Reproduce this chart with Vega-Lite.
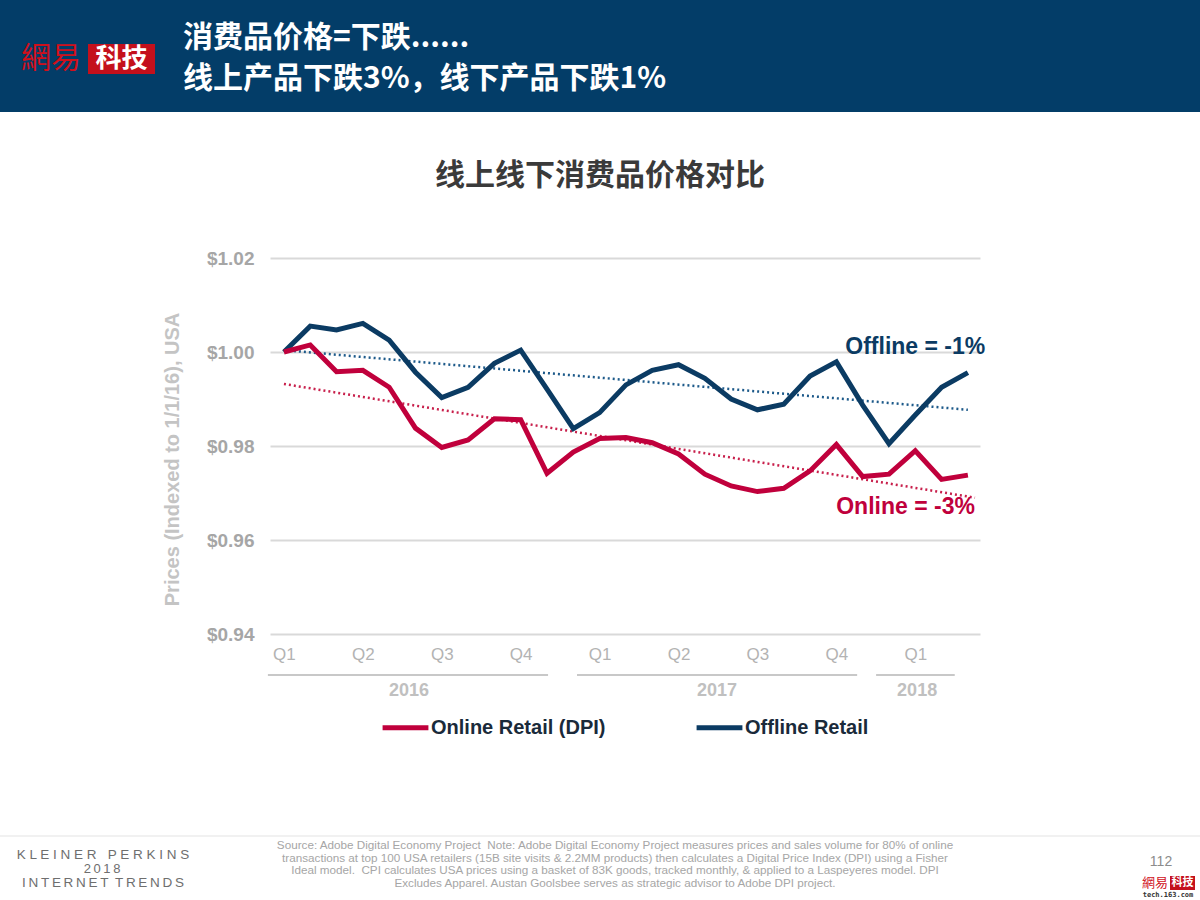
{
  "$schema": "https://vega.github.io/schema/vega-lite/v6.json",
  "width": 710,
  "height": 376,
  "autosize": {"type": "none"},
  "padding": {"left": 270, "top": 258, "right": 220, "bottom": 266},
  "background": "white",
  "config": {"view": {"stroke": null}},
  "datasets": {
    "prices": [
      {"m": 0, "series": "Offline Retail", "value": 1.0000},
      {"m": 1, "series": "Offline Retail", "value": 1.0055},
      {"m": 2, "series": "Offline Retail", "value": 1.0047},
      {"m": 3, "series": "Offline Retail", "value": 1.0061},
      {"m": 4, "series": "Offline Retail", "value": 1.0025},
      {"m": 5, "series": "Offline Retail", "value": 0.9957},
      {"m": 6, "series": "Offline Retail", "value": 0.9903},
      {"m": 7, "series": "Offline Retail", "value": 0.9925},
      {"m": 8, "series": "Offline Retail", "value": 0.9976},
      {"m": 9, "series": "Offline Retail", "value": 1.0004},
      {"m": 10, "series": "Offline Retail", "value": 0.9921},
      {"m": 11, "series": "Offline Retail", "value": 0.9837},
      {"m": 12, "series": "Offline Retail", "value": 0.9871},
      {"m": 13, "series": "Offline Retail", "value": 0.9930},
      {"m": 14, "series": "Offline Retail", "value": 0.9961},
      {"m": 15, "series": "Offline Retail", "value": 0.9973},
      {"m": 16, "series": "Offline Retail", "value": 0.9944},
      {"m": 17, "series": "Offline Retail", "value": 0.9900},
      {"m": 18, "series": "Offline Retail", "value": 0.9877},
      {"m": 19, "series": "Offline Retail", "value": 0.9889},
      {"m": 20, "series": "Offline Retail", "value": 0.9949},
      {"m": 21, "series": "Offline Retail", "value": 0.9979},
      {"m": 22, "series": "Offline Retail", "value": 0.9887},
      {"m": 23, "series": "Offline Retail", "value": 0.9805},
      {"m": 24, "series": "Offline Retail", "value": 0.9866},
      {"m": 25, "series": "Offline Retail", "value": 0.9925},
      {"m": 26, "series": "Offline Retail", "value": 0.9956},
      {"m": 0, "series": "Online Retail (DPI)", "value": 1.0000},
      {"m": 1, "series": "Online Retail (DPI)", "value": 1.0015},
      {"m": 2, "series": "Online Retail (DPI)", "value": 0.9958},
      {"m": 3, "series": "Online Retail (DPI)", "value": 0.9961},
      {"m": 4, "series": "Online Retail (DPI)", "value": 0.9925},
      {"m": 5, "series": "Online Retail (DPI)", "value": 0.9838},
      {"m": 6, "series": "Online Retail (DPI)", "value": 0.9797},
      {"m": 7, "series": "Online Retail (DPI)", "value": 0.9813},
      {"m": 8, "series": "Online Retail (DPI)", "value": 0.9858},
      {"m": 9, "series": "Online Retail (DPI)", "value": 0.9856},
      {"m": 10, "series": "Online Retail (DPI)", "value": 0.9742},
      {"m": 11, "series": "Online Retail (DPI)", "value": 0.9787},
      {"m": 12, "series": "Online Retail (DPI)", "value": 0.9816},
      {"m": 13, "series": "Online Retail (DPI)", "value": 0.9818},
      {"m": 14, "series": "Online Retail (DPI)", "value": 0.9807},
      {"m": 15, "series": "Online Retail (DPI)", "value": 0.9783},
      {"m": 16, "series": "Online Retail (DPI)", "value": 0.9740},
      {"m": 17, "series": "Online Retail (DPI)", "value": 0.9715},
      {"m": 18, "series": "Online Retail (DPI)", "value": 0.9703},
      {"m": 19, "series": "Online Retail (DPI)", "value": 0.9710},
      {"m": 20, "series": "Online Retail (DPI)", "value": 0.9747},
      {"m": 21, "series": "Online Retail (DPI)", "value": 0.9803},
      {"m": 22, "series": "Online Retail (DPI)", "value": 0.9735},
      {"m": 23, "series": "Online Retail (DPI)", "value": 0.9740},
      {"m": 24, "series": "Online Retail (DPI)", "value": 0.9790},
      {"m": 25, "series": "Online Retail (DPI)", "value": 0.9729},
      {"m": 26, "series": "Online Retail (DPI)", "value": 0.9738}
    ],
    "trends": [
      {"m": 0, "series": "Offline trend", "value": 1.0004},
      {"m": 26, "series": "Offline trend", "value": 0.9877},
      {"m": 0, "series": "Online trend", "value": 0.9932},
      {"m": 26.27, "series": "Online trend", "value": 0.9690}
    ],
    "notes": [
      {"label": "Offline = -1%", "series": "Offline", "m": 24, "value": 1.0011},
      {"label": "Online = -3%", "series": "Online", "m": 23.63, "value": 0.9670}
    ],
    "years": [
      {"year": "2016", "m": 4.75, "m2": -0.61, "m3": 10.04},
      {"year": "2017", "m": 16.46, "m2": 11.14, "m3": 21.79},
      {"year": "2018", "m": 24.07, "m2": 22.51, "m3": 25.5}
    ]
  },
  "encoding": {
    "x": {
      "field": "m", "type": "quantitative",
      "scale": {"domain": [-0.53, 26.46], "nice": false, "zero": false},
      "axis": {
        "values": [0, 3, 6, 9, 12, 15, 18, 21, 24],
        "labelExpr": "['Q1','Q2','Q3','Q4'][(datum.value / 3) % 4]",
        "labelFont": "Liberation Sans", "labelFontSize": 17, "labelColor": "#b3b3b3",
        "labelPadding": 12, "ticks": false, "domain": false, "grid": false, "title": null
      }
    },
    "y": {
      "field": "value", "type": "quantitative",
      "scale": {"domain": [0.94, 1.02], "nice": false, "zero": false},
      "axis": {
        "values": [0.94, 0.96, 0.98, 1.0, 1.02],
        "format": "$.2f",
        "labelFont": "Liberation Sans", "labelFontSize": 19, "labelFontWeight": "bold",
        "labelColor": "#a6a6a6", "labelPadding": 16,
        "ticks": false, "domain": false,
        "grid": true, "gridColor": "#d9d9d9", "gridWidth": 2,
        "title": "Prices (Indexed to 1/1/16), USA",
        "titleFont": "Liberation Sans", "titleFontSize": 20, "titleFontWeight": "bold",
        "titleColor": "#c4c4c4", "titleAngle": -90, "titleX": -98, "titleY": 201,
        "titleAlign": "center", "titleBaseline": "middle"
      }
    }
  },
  "layer": [
    {
      "data": {"values": [{}]},
      "mark": {"type": "rect", "color": "#033d68"},
      "encoding": {"x": {"value": -270}, "x2": {"value": 930}, "y": {"value": -258}, "y2": {"value": -146}}
    },
    {
      "data": {"values": [{}]},
      "mark": {"type": "rect", "color": "#c4101c"},
      "encoding": {"x": {"value": -182}, "x2": {"value": -115}, "y": {"value": -214}, "y2": {"value": -184}}
    },
    {
      "data": {"values": [{}]},
      "mark": {"type": "text", "text": "網易", "font": "Noto Sans CJK TC", "fontSize": 30, "color": "#d0101b", "align": "left", "baseline": "middle"},
      "encoding": {"x": {"value": -249}, "y": {"value": -199}}
    },
    {
      "data": {"values": [{}]},
      "mark": {"type": "text", "text": "科技", "font": "Noto Sans CJK SC", "fontWeight": "bold", "fontSize": 26, "color": "white", "align": "center", "baseline": "middle"},
      "encoding": {"x": {"value": -148.5}, "y": {"value": -199}}
    },
    {
      "data": {"values": [{}]},
      "mark": {"type": "text", "text": "消费品价格=下跌......", "font": "Noto Sans CJK SC", "fontWeight": "bold", "fontSize": 30, "color": "white", "align": "left", "baseline": "middle"},
      "encoding": {"x": {"value": -87}, "y": {"value": -220}}
    },
    {
      "data": {"values": [{}]},
      "mark": {"type": "text", "text": "线上产品下跌3%，线下产品下跌1%", "font": "Noto Sans CJK SC", "fontWeight": "bold", "fontSize": 30, "color": "white", "align": "left", "baseline": "middle"},
      "encoding": {"x": {"value": -87}, "y": {"value": -179}}
    },
    {
      "data": {"values": [{}]},
      "mark": {"type": "text", "text": "线上线下消费品价格对比", "font": "Noto Sans CJK SC", "fontWeight": "bold", "fontSize": 30, "color": "#3a3a3a", "align": "center", "baseline": "middle"},
      "encoding": {"x": {"value": 330}, "y": {"value": -82}}
    },
    {
      "data": {"name": "years"},
      "mark": {"type": "rule", "color": "#c8c8c8", "strokeWidth": 2},
      "encoding": {"x": {"field": "m2", "type": "quantitative"}, "x2": {"field": "m3"}, "y": {"value": 417}}
    },
    {
      "data": {"name": "years"},
      "mark": {"type": "text", "font": "Liberation Sans", "fontWeight": "bold", "fontSize": 18, "color": "#c0c0c0", "align": "center", "baseline": "middle"},
      "encoding": {"text": {"field": "year"}, "y": {"value": 433}}
    },
    {
      "data": {"name": "trends"},
      "mark": {"type": "line", "strokeWidth": 2.5, "strokeDash": [2, 3]},
      "encoding": {
        "detail": {"field": "series"},
        "stroke": {"field": "series", "type": "nominal", "scale": {"domain": ["Offline trend", "Online trend"], "range": ["#1d5a8a", "#c8204c"]}, "legend": null}
      }
    },
    {
      "data": {"name": "prices"},
      "mark": {"type": "line", "strokeWidth": 5, "strokeJoin": "miter"},
      "encoding": {
        "color": {
          "field": "series", "type": "nominal",
          "scale": {"domain": ["Online Retail (DPI)", "Offline Retail"], "range": ["#c0003c", "#0b3b63"]},
          "legend": {
            "title": null, "orient": "none", "direction": "horizontal",
            "legendX": 110, "legendY": 444,
            "symbolType": "stroke", "symbolSize": 2100, "symbolStrokeWidth": 5,
            "labelFont": "Liberation Sans", "labelFontSize": 20, "labelFontWeight": "bold",
            "labelColor": "#1a2a3a", "labelOffset": 0, "columnPadding": 80,
            "labelLimit": 400
          }
        }
      }
    },
    {
      "data": {"name": "notes"},
      "transform": [{"filter": "datum.series === 'Offline'"}],
      "mark": {"type": "text", "font": "Liberation Sans", "fontWeight": "bold", "fontSize": 23, "color": "#0b3b63", "align": "center", "baseline": "middle"},
      "encoding": {"text": {"field": "label"}}
    },
    {
      "data": {"name": "notes"},
      "transform": [{"filter": "datum.series === 'Online'"}],
      "mark": {"type": "text", "font": "Liberation Sans", "fontWeight": "bold", "fontSize": 23, "color": "#c0003c", "align": "center", "baseline": "middle"},
      "encoding": {"text": {"field": "label"}}
    },
    {
      "data": {"values": [{}]},
      "mark": {"type": "rule", "color": "#e3e3e3", "strokeWidth": 1},
      "encoding": {"x": {"value": -270}, "x2": {"value": 930}, "y": {"value": 578}}
    },
    {
      "data": {"values": [{}]},
      "mark": {"type": "text", "text": "K L E I N E R\u00a0\u00a0 P E R K I N S", "font": "Liberation Sans", "fontSize": 13.5, "color": "#6e6e6e", "align": "center", "baseline": "middle"},
      "encoding": {"x": {"value": -167}, "y": {"value": 597}}
    },
    {
      "data": {"values": [{}]},
      "mark": {"type": "text", "text": "2\u20090\u20091\u20098", "font": "Liberation Sans", "fontSize": 13, "color": "#6e6e6e", "align": "center", "baseline": "middle"},
      "encoding": {"x": {"value": -168}, "y": {"value": 611}}
    },
    {
      "data": {"values": [{}]},
      "mark": {"type": "text", "text": "I\u2009N\u2009T\u2009E\u2009R\u2009N\u2009E\u2009T\u00a0\u2009T\u2009R\u2009E\u2009N\u2009D\u2009S", "font": "Liberation Sans", "fontSize": 13.5, "color": "#6e6e6e", "align": "center", "baseline": "middle"},
      "encoding": {"x": {"value": -167}, "y": {"value": 625}}
    },
    {
      "data": {"values": [{}]},
      "mark": {
        "type": "text",
        "text": [
          "Source: Adobe Digital Economy Project\u00a0 Note: Adobe Digital Economy Project measures prices and sales volume for 80% of online",
          "transactions at top 100 USA retailers (15B site visits & 2.2MM products) then calculates a Digital Price Index (DPI) using a Fisher",
          "Ideal model.\u00a0 CPI calculates USA prices using a basket of 83K goods, tracked monthly, & applied to a Laspeyeres model. DPI",
          "Excludes Apparel. Austan Goolsbee serves as strategic advisor to Adobe DPI project."
        ],
        "font": "Liberation Sans", "fontSize": 11.7, "lineHeight": 12.7, "color": "#a6a6a6", "align": "center", "baseline": "top"
      },
      "encoding": {"x": {"value": 345}, "y": {"value": 582}}
    },
    {
      "data": {"values": [{}]},
      "mark": {"type": "text", "text": "112", "font": "Liberation Sans", "fontSize": 14, "color": "#8c8c8c", "align": "center", "baseline": "middle"},
      "encoding": {"x": {"value": 891}, "y": {"value": 604}}
    },
    {
      "data": {"values": [{}]},
      "mark": {"type": "rect", "color": "#c4101c"},
      "encoding": {"x": {"value": 900}, "x2": {"value": 925}, "y": {"value": 618}, "y2": {"value": 632}}
    },
    {
      "data": {"values": [{}]},
      "mark": {"type": "text", "text": "網易", "font": "Noto Sans CJK TC", "fontSize": 13, "color": "#d0101b", "align": "left", "baseline": "middle"},
      "encoding": {"x": {"value": 872}, "y": {"value": 625}}
    },
    {
      "data": {"values": [{}]},
      "mark": {"type": "text", "text": "科技", "font": "Noto Sans CJK SC", "fontWeight": "bold", "fontSize": 11, "color": "white", "align": "center", "baseline": "middle"},
      "encoding": {"x": {"value": 912.5}, "y": {"value": 625}}
    },
    {
      "data": {"values": [{}]},
      "mark": {"type": "text", "text": "tech.163.com", "font": "DejaVu Sans Mono", "fontSize": 7, "fontWeight": "bold", "color": "#333333", "align": "center", "baseline": "middle"},
      "encoding": {"x": {"value": 898}, "y": {"value": 637}}
    }
  ]
}
